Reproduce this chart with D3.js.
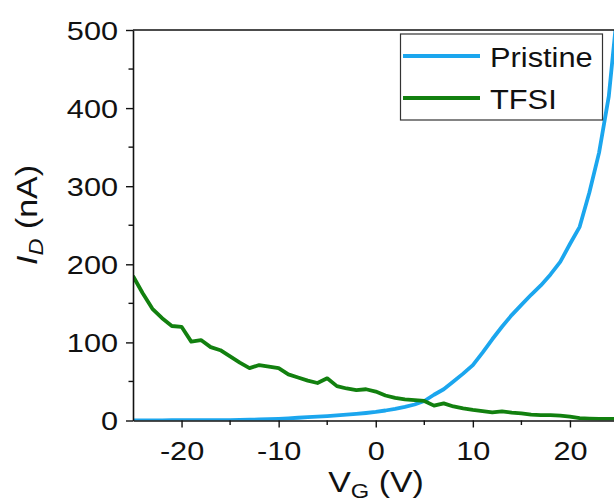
<!DOCTYPE html>
<html>
<head>
<meta charset="utf-8">
<script src="https://cdn.jsdelivr.net/npm/d3@7/dist/d3.min.js"></script>
<style>
  html, body { margin: 0; padding: 0; background: #fff; }
  svg { display: block; }
  text { font-family: "Liberation Sans", Arial, sans-serif; fill: #111; }
</style>
</head>
<body>
<svg id="chart" width="614" height="502"></svg>
<script>
// Gate voltage sweep (V)
const gateVoltage = d3.range(-25, 26, 1);

// Drain current, pristine device (nA)
const pristine = [
  0.2, 0.2, 0.2, 0.2, 0.3, 0.3, 0.3, 0.4, 0.4, 0.5,
  0.6, 0.8, 1.0, 1.3, 1.7, 2.2, 2.8, 3.5, 4.2, 4.9,
  5.7, 6.5, 7.4, 8.4, 9.6, 11, 12.8, 15, 17.5, 20.5,
  25, 33, 40, 50, 60, 71, 87, 104, 120, 135,
  148, 161, 173, 187, 203, 226, 248, 292, 343, 415, 540
];

// Drain current, TFSI-treated device (nA)
const tfsi = [
  185, 163, 143, 131, 121, 120, 101, 103, 94, 90,
  82, 74, 67, 71, 69, 67, 59, 55, 51, 48,
  54, 44, 41, 39, 40, 37, 32, 29, 27, 26,
  25, 19, 22, 18, 15.5, 13.5, 12, 10.5, 11.8, 10,
  9, 7.5, 7, 6.8, 6.2, 5, 3, 2.5, 2.2, 2, 2
];

const seriesNames = ["Pristine", "TFSI"];
const seriesColors = ["#1ba6ee", "#12800f"];
const xTicks = [-20, -10, 0, 10, 20];
const xMinorTicks = [-15, -5, 5, 15];
const yTicks = [0, 100, 200, 300, 400, 500];
const yMinorTicks = [50, 150, 250, 350, 450];

const svg = d3.select("#chart");
const W = 614;
const x = d3.scaleLinear().domain([-25, 25]).range([133, 618.5]);
const y = d3.scaleLinear().domain([0, 500]).range([420.5, 30]);
const stretch = "scale(1.18,1)";
const plainNumber = d => String(d);

// clip the curves to the plotting frame
svg.append("defs").append("clipPath").attr("id", "plotClip")
  .append("rect").attr("x", x(-25)).attr("y", y(500))
  .attr("width", W - x(-25)).attr("height", y(0) - y(500));

// data curves
const line = d3.line().x(d => x(d[0])).y(d => y(d[1]));
const plot = svg.append("g").attr("clip-path", "url(#plotClip)");
[pristine, tfsi].forEach((vals, i) => {
  plot.append("path")
    .datum(gateVoltage.map((v, k) => [v, vals[k]]))
    .attr("d", line)
    .attr("fill", "none")
    .attr("stroke", seriesColors[i])
    .attr("stroke-width", 3.8)
    .attr("stroke-linejoin", "round");
});

// left axis
const yAxis = svg.append("g").attr("transform", `translate(${x(-25)},0)`)
  .call(d3.axisLeft(y).tickValues(yTicks).tickFormat(plainNumber).tickSize(7).tickSizeOuter(0));
yAxis.selectAll(".tick text")
  .attr("x", -12.7).attr("dy", "0.36em").attr("transform", stretch)
  .style("font-size", "26px");
svg.append("g").attr("transform", `translate(${x(-25)},0)`)
  .selectAll("line").data(yMinorTicks).join("line")
  .attr("x1", -4.5).attr("x2", 0).attr("y1", d => y(d)).attr("y2", d => y(d))
  .attr("stroke", "#111").attr("stroke-width", 1.4);

// bottom axis
const xAxis = svg.append("g").attr("transform", `translate(0,${y(0)})`)
  .call(d3.axisBottom(x).tickValues(xTicks).tickFormat(plainNumber).tickSize(7).tickSizeOuter(0));
xAxis.selectAll(".tick text")
  .attr("y", 39.5).attr("dy", 0).attr("transform", stretch)
  .style("font-size", "26px");
svg.append("g").attr("transform", `translate(0,${y(0)})`)
  .selectAll("line").data(xMinorTicks).join("line")
  .attr("x1", d => x(d)).attr("x2", d => x(d)).attr("y1", 0).attr("y2", 4.5)
  .attr("stroke", "#111").attr("stroke-width", 1.4);

[yAxis, xAxis].forEach(a => {
  a.select(".domain").attr("stroke", "#111").attr("stroke-width", 1.6);
  a.selectAll(".tick line").attr("stroke", "#111").attr("stroke-width", 1.4);
  a.attr("font-family", null).attr("font-size", null);
});

// top frame line
svg.append("line")
  .attr("x1", x(-25)).attr("x2", W).attr("y1", y(500)).attr("y2", y(500))
  .attr("stroke", "#111").attr("stroke-width", 1.6);

// axis titles
const yTitle = svg.append("text")
  .attr("transform", "translate(37,215) rotate(-90) scale(1.13,1)")
  .attr("text-anchor", "middle").style("font-size", "30px");
yTitle.append("tspan").attr("font-style", "italic").text("I");
yTitle.append("tspan").attr("font-style", "italic").attr("dy", 6).style("font-size", "21px").text("D");
yTitle.append("tspan").attr("dy", -6).text(" (nA)");

const xTitle = svg.append("text")
  .attr("transform", "translate(376,492) scale(1.13,1)")
  .attr("text-anchor", "middle").style("font-size", "30px");
xTitle.append("tspan").text("V");
xTitle.append("tspan").attr("dy", 6).style("font-size", "21px").text("G");
xTitle.append("tspan").attr("dy", -6).text(" (V)");

// legend
const legend = svg.append("g");
legend.append("rect")
  .attr("x", 400.5).attr("y", 34).attr("width", 202).attr("height", 86)
  .attr("fill", "#fff").attr("stroke", "#333").attr("stroke-width", 1.2);
seriesNames.forEach((name, i) => {
  const ly = 56 + i * 42;
  legend.append("line")
    .attr("x1", 403).attr("x2", 480).attr("y1", ly).attr("y2", ly)
    .attr("stroke", seriesColors[i]).attr("stroke-width", 3.8);
  legend.append("text")
    .attr("transform", `translate(490,${ly + 10.5}) scale(1.1,1)`)
    .style("font-size", "28px").text(name);
});
</script>
</body>
</html>
